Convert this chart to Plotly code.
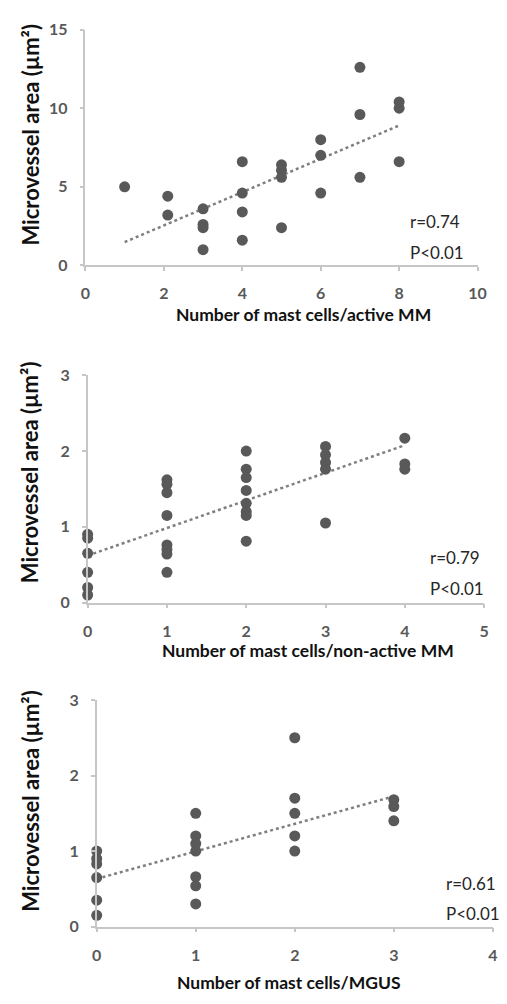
import numpy as np
import plotly.graph_objects as go

W, H = 507, 1004

# Panel 1: active MM
x_active = [1, 2.1, 2.1, 3, 3, 3, 3, 4, 4, 4, 4, 5, 5, 5, 5, 6, 6, 6, 7, 7, 7, 8, 8, 8]
y_active = [5.0, 4.4, 3.2, 3.6, 2.6, 2.4, 1.0, 6.6, 4.6, 3.4, 1.6, 6.4, 6.05, 5.6, 2.4,
            8.0, 7.0, 4.6, 12.6, 9.6, 5.6, 10.4, 10.0, 6.6]
# Panel 2: non-active MM
x_nonactive = [0, 0, 0, 0, 0, 0, 1, 1, 1, 1, 1, 1, 1, 1, 2, 2, 2, 2, 2, 2, 2, 2,
               3, 3, 3, 3, 3, 4, 4, 4]
y_nonactive = [0.9, 0.85, 0.65, 0.4, 0.2, 0.1, 1.62, 1.56, 1.45, 1.15, 0.76, 0.7, 0.64, 0.4,
               2.0, 1.76, 1.65, 1.48, 1.31, 1.2, 1.15, 0.81,
               2.06, 1.95, 1.85, 1.76, 1.05, 2.17, 1.83, 1.76]
# Panel 3: MGUS
x_mgus = [0, 0, 0, 0, 0, 0, 1, 1, 1, 1, 1, 1, 1, 2, 2, 2, 2, 2, 3, 3, 3]
y_mgus = [1.0, 0.9, 0.83, 0.65, 0.35, 0.15, 1.5, 1.2, 1.1, 1.0, 0.66, 0.54, 0.3,
          2.5, 1.7, 1.5, 1.2, 1.0, 1.68, 1.59, 1.4]

x_titles = ["Number of mast cells/active MM", "Number of mast cells/non-active MM",
            "Number of mast cells/MGUS"]
y_title = "Microvessel area (µm²)"
r_labels = ["r=0.74", "r=0.79", "r=0.61"]
p_labels = ["P<0.01", "P<0.01", "P<0.01"]
x_ranges = [[0, 10], [0, 5], [0, 4]]
y_ranges = [[0, 15], [0, 3], [0, 3]]
x_dticks = [2, 1, 1]
y_dticks = [5, 1, 1]

panels = [(x_active, y_active), (x_nonactive, y_nonactive), (x_mgus, y_mgus)]

# plot areas in pixels: (left, right, top, bottom)
areas = [(82.7, 486.0, 20.0, 260.3), (85.0, 492.7, 372.3, 604.0), (94.3, 501.7, 703.3, 934.3)]
xtitle_pos = [(306.7, 310.0), (312.0, 653.0), (291.7, 991.0)]
ytitle_pos = [(26.0, 126.7), (26.0, 470.8), (26.0, 805.8)]
r_pos = [(414.0, 216.0), (435.0, 557.7), (451.0, 890.0)]
p_pos = [(414.0, 246.7), (435.0, 589.3), (451.0, 920.7)]

def px(x):
    return x / W

def py(y):
    return 1 - y / H

FONT = "Lato"
fig = go.Figure()
layout = dict(width=W, height=H, margin=dict(l=0, r=0, t=0, b=0),
              paper_bgcolor="white", plot_bgcolor="white", showlegend=False,
              font=dict(family=FONT))
annotations = []
for i, ((xs, ys), (l, r, t, b)) in enumerate(zip(panels, areas)):
    k = "" if i == 0 else str(i + 1)
    xa, ya = "x" + k, "y" + k
    coef = np.polyfit(xs, ys, 1)
    tx = np.array([min(xs), max(xs)])
    fig.add_trace(go.Scatter(x=tx, y=np.polyval(coef, tx), mode="lines", xaxis=xa, yaxis=ya,
                             line=dict(color="#7f7f7f", width=2.5, dash="dot"), cliponaxis=False))
    fig.add_trace(go.Scatter(x=xs, y=ys, mode="markers", xaxis=xa, yaxis=ya,
                             marker=dict(size=11, color="#595959"), cliponaxis=False))
    axis_common = dict(showgrid=False, zeroline=False, showline=True, linecolor="#c6c6c6",
                       linewidth=1.5, ticks="outside", ticklen=4, tickwidth=1.5,
                       tickcolor="#c6c6c6",
                       tickfont=dict(family=FONT, size=16, color="#595959", weight="bold"),
                       ticklabelstandoff=9, fixedrange=True)
    layout["xaxis" + k] = dict(axis_common, domain=[px(l), px(r)], range=x_ranges[i],
                               dtick=x_dticks[i], tick0=0, anchor=ya)
    layout["yaxis" + k] = dict(axis_common, domain=[py(b), py(t)], range=y_ranges[i],
                               dtick=y_dticks[i], tick0=0, anchor=xa)
    annotations.append(dict(text=x_titles[i], xref="paper", yref="paper",
                            x=px(xtitle_pos[i][0]), y=py(xtitle_pos[i][1]),
                            xanchor="center", yanchor="middle", showarrow=False,
                            font=dict(family=FONT, size=17.5, color="#111111", weight="bold")))
    annotations.append(dict(text=y_title, xref="paper", yref="paper",
                            x=px(ytitle_pos[i][0]), y=py(ytitle_pos[i][1]),
                            xanchor="center", yanchor="middle", showarrow=False, textangle=-90,
                            font=dict(family=FONT, size=22, color="#111111", weight="bold")))
    annotations.append(dict(text=r_labels[i], xref="paper", yref="paper",
                            x=px(r_pos[i][0]), y=py(r_pos[i][1]),
                            xanchor="left", yanchor="middle", showarrow=False,
                            font=dict(family=FONT, size=17, color="#262626")))
    annotations.append(dict(text=p_labels[i], xref="paper", yref="paper",
                            x=px(p_pos[i][0]), y=py(p_pos[i][1]),
                            xanchor="left", yanchor="middle", showarrow=False,
                            font=dict(family=FONT, size=17, color="#262626")))
layout["annotations"] = annotations
fig.update_layout(**layout)
fig.write_html("out.html", config={"displayModeBar": False},
               post_script="document.body.style.margin='0';document.body.style.overflow='hidden';")
